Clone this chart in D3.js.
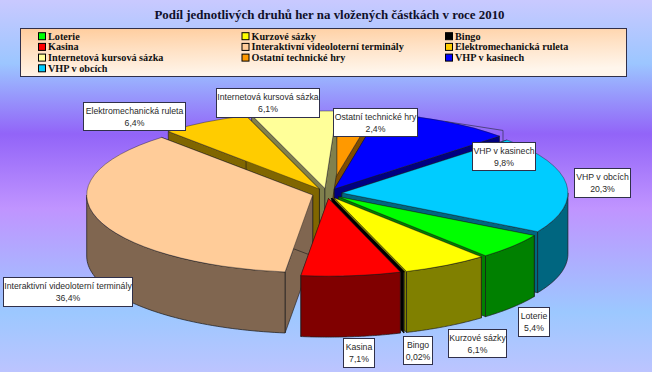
<!DOCTYPE html>
<html>
<head>
<meta charset="utf-8">
<style>
html, body { margin: 0; padding: 0; background: #fff; }
svg { display: block; }
</style>
</head>
<body>
<div id="chart"></div>
<script src="https://cdn.jsdelivr.net/npm/d3@7"></script>
<script>
'use strict';

const categories = ['Loterie', 'Kurzové sázky', 'Bingo', 'Kasina', 'Interaktivní videoloterní terminály',
    'Elektromechanická ruleta', 'Internetová kursová sázka', 'Ostatní technické hry', 'VHP v kasinech', 'VHP v obcích'];
const shares = [5.4, 6.1, 0.02, 7.1, 36.4, 6.4, 6.1, 2.4, 9.8, 20.3];
const shareLabels = ['5,4%', '6,1%', '0,02%', '7,1%', '36,4%', '6,4%', '6,1%', '2,4%', '9,8%', '20,3%'];
const topColors = ['#00ff00', '#ffff00', '#000000', '#ff0000', '#ffcc99', '#ffcc00', '#ffff99', '#ff9900', '#0000ff', '#00ccff'];
const wallColors = ['#008000', '#808000', '#000000', '#800000', '#806650', '#806600', '#80804d', '#804d00', '#000080', '#006680'];
const chartTitle = 'Podíl jednotlivých druhů her na vložených částkách v roce 2010';

// label boxes placed by hand, same as in the original chart: x, y, width, height
const labelBoxes = [
    [518, 307, 31, 29], [448, 329, 58, 28], [403, 336, 29, 28], [343, 338, 31, 29], [3, 277, 129, 29],
    [83, 102, 102, 28], [216, 88, 103, 29], [333, 108, 84, 28], [472, 142, 63, 28], [574, 168, 56, 29]
];

const width = 652;
const height = 372;

const pie3d = { cx: 327, cy: 193.5, rx: 226, ry: 77.5, depth: 61, explode: 15, start: 120 };

const svg = d3.select('#chart').append('svg')
    .attr('width', width)
    .attr('height', height)
    .attr('font-family', '"Liberation Sans", Arial, sans-serif');

let defs = svg.append('defs');

let bgGrad = defs.append('linearGradient').attr('id', 'bg').attr('x1', 0).attr('x2', 0).attr('y1', 0).attr('y2', 1);
[[0, '#c9c9ff'], [0.17, '#9cc6ff'], [0.36, '#9264f8'], [0.56, '#c094ff'], [0.84, '#9cc8ff'], [1, '#bcc4ff']]
    .forEach(function (s) {
        bgGrad.append('stop').attr('offset', s[0]).attr('stop-color', s[1]);
    });

let legGrad = defs.append('linearGradient').attr('id', 'leg').attr('x1', 0).attr('x2', 0.25).attr('y1', 0).attr('y2', 1);
[[0, '#ffcc9c'], [0.5, '#ffe2c6'], [1, '#fff6ec']]
    .forEach(function (s) {
        legGrad.append('stop').attr('offset', s[0]).attr('stop-color', s[1]);
    });

svg.append('rect').attr('width', width).attr('height', height).attr('fill', 'url(#bg)');

svg.append('text')
    .attr('x', 329.5)
    .attr('y', 19)
    .attr('text-anchor', 'middle')
    .attr('font-family', '"Liberation Serif", "Times New Roman", serif')
    .attr('font-weight', 'bold')
    .attr('font-size', 12.9)
    .attr('fill', '#10102a')
    .text(chartTitle);

// legend
let legend = svg.append('g').attr('font-family', '"Liberation Serif", "Times New Roman", serif');
legend.append('rect')
    .attr('x', 20.5).attr('y', 28.5).attr('width', 606).attr('height', 48)
    .attr('fill', 'url(#leg)')
    .attr('stroke', '#30304a')
    .attr('stroke-width', 1);

let legendCol = d3.scalePoint().domain([0, 1, 2]).range([38, 445]);
let legendRow = d3.scalePoint().domain([0, 1, 2, 3]).range([36.2, 68.3]);

let legendItem = legend.selectAll('.item')
    .data(categories)
    .enter()
    .append('g')
    .attr('class', 'item')
    .attr('transform', function (d, i) {
        return 'translate(' + legendCol(i % 3) + ',' + legendRow(Math.floor(i / 3)) + ')';
    });
legendItem.append('rect')
    .attr('x', 0.5).attr('y', -3.5).attr('width', 7).attr('height', 7)
    .attr('fill', function (d, i) { return topColors[i]; })
    .attr('stroke', '#000')
    .attr('stroke-width', 1);
legendItem.append('text')
    .attr('x', 10)
    .attr('y', 3.5)
    .attr('font-size', 10.2)
    .attr('font-weight', 'bold')
    .attr('fill', '#111')
    .text(function (d) { return d; });

// pie geometry
let toRad = Math.PI / 180;
let slices = d3.pie().sort(null).startAngle(pie3d.start * toRad).endAngle((pie3d.start + 360) * toRad)(shares);

let xPos = d3.scaleLinear().domain([-1, 1]).range([-pie3d.rx, pie3d.rx]);
let yPos = d3.scaleLinear().domain([-1, 1]).range([-pie3d.ry, pie3d.ry]);
let arcGen = d3.arc().innerRadius(0).outerRadius(pie3d.rx);

slices.forEach(function (s, i) {
    s.index = i;
    s.mid = (s.startAngle + s.endAngle) / 2;
    s.ox = pie3d.cx + Math.sin(s.mid) * pie3d.explode;
    s.oy = pie3d.cy - Math.cos(s.mid) * pie3d.explode * pie3d.ry / pie3d.rx;
});

function rim(s, a) {
    return [s.ox + xPos(Math.sin(a)), s.oy + yPos(-Math.cos(a))];
}

function radialWall(s, a) {
    let p = rim(s, a);
    return d3.line()([[s.ox, s.oy], p, [p[0], p[1] + pie3d.depth], [s.ox, s.oy + pie3d.depth]]) + 'Z';
}

// outer wall, only the part of the rim turned to the viewer
function outerWall(s) {
    let spans = [[Math.PI / 2, 3 * Math.PI / 2], [5 * Math.PI / 2, 7 * Math.PI / 2]];
    let parts = [];
    spans.forEach(function (sp) {
        let a0 = Math.max(s.startAngle, sp[0]);
        let a1 = Math.min(s.endAngle, sp[1]);
        if (a1 > a0) {
            parts.push(d3.range(0, 61).map(function (k) { return a0 + (a1 - a0) * k / 60; }));
        }
    });
    return parts.map(function (angles) {
        let pts = angles.map(function (a) { return rim(s, a); });
        let low = pts.slice().reverse().map(function (p) { return [p[0], p[1] + pie3d.depth]; });
        return d3.line()(pts.concat(low)) + 'Z';
    }).join('');
}

// painter order: far slices first
let order = slices.slice().sort(function (a, b) { return (-Math.cos(a.mid)) - (-Math.cos(b.mid)); });

let pieLayer = svg.append('g').attr('stroke-linejoin', 'round');

order.forEach(function (s) {
    let g = pieLayer.append('g');
    let wall = wallColors[s.index];
    [s.startAngle, s.endAngle].forEach(function (a) {
        g.append('path').attr('d', radialWall(s, a))
            .attr('fill', wall).attr('stroke', '#1a1a1a').attr('stroke-width', 0.6);
    });
    g.append('path').attr('d', outerWall(s))
        .attr('fill', wall).attr('stroke', '#1a1a1a').attr('stroke-width', 0.7);
    g.append('path')
        .attr('d', arcGen(s))
        .attr('transform', 'translate(' + s.ox + ',' + s.oy + ') scale(1,' + (pie3d.ry / pie3d.rx) + ')')
        .attr('fill', topColors[s.index])
        .attr('stroke', s.index === 2 ? '#000' : '#1a1a1a')
        .attr('stroke-width', s.index === 2 ? 2 : 0.6);
});

// leader line of the VHP v kasinech label
let kasSlice = slices[8];
let kasBox = labelBoxes[8];
let kasRim = rim(kasSlice, kasSlice.mid);
svg.append('path')
    .attr('d', d3.line()([kasRim, [kasBox[0] + 31, kasRim[1] + 9], [kasBox[0] + 31, kasBox[1]]]))
    .attr('fill', 'none')
    .attr('stroke', '#303050')
    .attr('stroke-width', 0.7);

// data labels
let labels = svg.append('g').selectAll('.label')
    .data(categories)
    .enter()
    .append('g')
    .attr('class', 'label')
    .attr('transform', function (d, i) {
        return 'translate(' + labelBoxes[i][0] + ',' + labelBoxes[i][1] + ')';
    });
labels.append('rect')
    .attr('x', 0.5).attr('y', 0.5)
    .attr('width', function (d, i) { return labelBoxes[i][2]; })
    .attr('height', function (d, i) { return labelBoxes[i][3]; })
    .attr('fill', '#fff')
    .attr('stroke', '#30304a')
    .attr('stroke-width', 1);
labels.append('text')
    .attr('x', function (d, i) { return labelBoxes[i][2] / 2 + 0.5; })
    .attr('y', 11.5)
    .attr('text-anchor', 'middle')
    .attr('font-size', 8.7)
    .attr('fill', '#2a2a2a')
    .text(function (d) { return d; });
labels.append('text')
    .attr('x', function (d, i) { return labelBoxes[i][2] / 2 + 0.5; })
    .attr('y', 23.5)
    .attr('text-anchor', 'middle')
    .attr('font-size', 8.7)
    .attr('fill', '#2a2a2a')
    .text(function (d, i) { return shareLabels[i]; });
</script>
</body>
</html>
